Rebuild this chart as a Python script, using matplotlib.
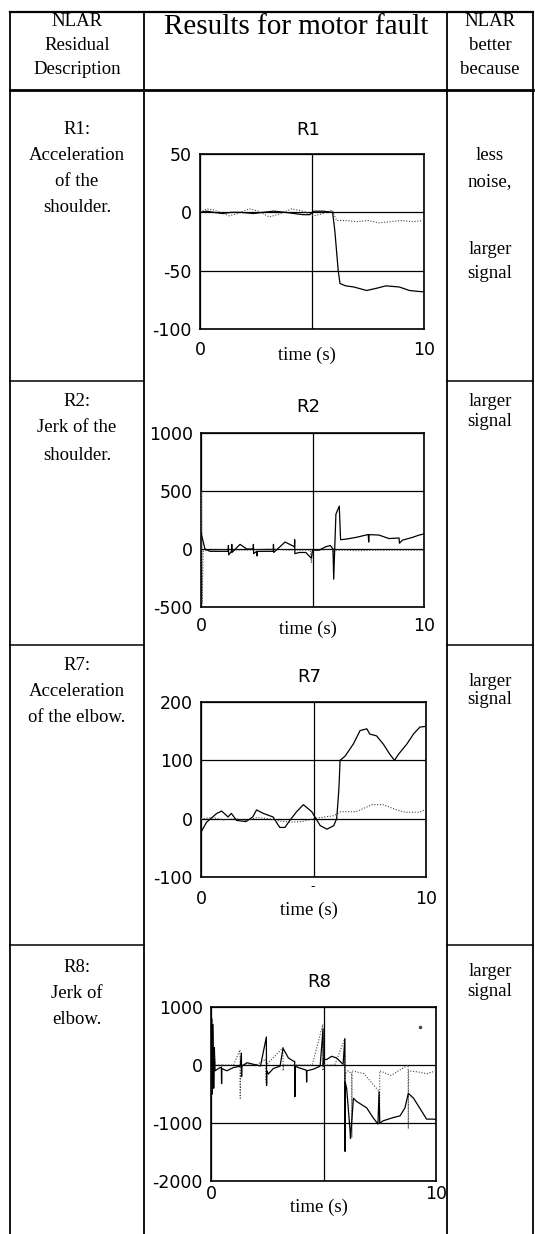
import matplotlib
matplotlib.use("Agg")
import matplotlib.pyplot as plt
from matplotlib.lines import Line2D
import numpy as np

# ---------------- data ----------------
r1_solid_t = [0, 0.3, 0.6, 1.0, 1.4, 1.8, 2.4, 2.8, 3.3, 3.8, 4.2, 4.6, 4.9, 5.1, 5.5, 5.92, 6.02, 6.17, 6.25, 6.5, 6.87, 7.44, 7.9, 8.3, 8.9, 9.35, 9.86, 10.0]
r1_solid_v = [0, 1, 0, -1, 0, 0, -1, 0, 1, 0, -1, -2, -2, 1, 1, 0, -16, -50, -61, -63, -64, -67, -65, -63, -64, -67, -68, -68]
r1_dot_t = [0, 0.3, 0.6, 0.9, 1.3, 1.7, 2.2, 2.6, 3.1, 3.6, 4.1, 4.6, 5.1, 5.5, 5.9, 6.1, 6.5, 7.0, 7.5, 8.0, 8.5, 9.0, 9.5, 10]
r1_dot_v = [0, 3, 2, 0, -3, -1, 3, 1, -4, -1, 3, 1, -3, -1, 2, -7, -7, -8, -7, -9, -8, -7, -8, -7]

r2_solid_t = [0, 0.05, 0.18, 0.4, 0.8, 1.22, 1.23, 1.24, 1.37, 1.38, 1.39, 1.75, 2.05, 2.34, 2.35, 2.36,
              2.5, 2.51, 2.52, 2.8, 3.24, 3.25, 3.26, 3.77, 4.19, 4.2, 4.21, 4.4, 4.7, 4.95, 5.0, 5.3, 5.6, 5.8,
              5.92, 5.95, 6.05, 6.2, 6.26, 6.5, 6.95, 7.5, 7.52, 7.54, 7.98, 8.43, 8.88, 8.9, 9.03, 9.48, 9.78, 10.0]
r2_solid_v = [140, 100, 0, -20, -20, -20, 30, -50, -20, 40, -30, 40, 0, 0, 40, -40,
              -20, -60, -20, -20, -20, 40, -30, 60, 20, 80, -40, -30, -30, -80, -10, -10, 20, 30,
              0, -260, 300, 370, 80, 85, 100, 125, 60, 124, 120, 90, 95, 50, 76, 100, 120, 130]
r2_dot_t = [0, 0.02, 0.05, 0.1, 0.3, 1, 2, 3, 4, 4.9, 4.95, 5.0, 5.5, 5.9, 5.95, 6.0, 6.5, 7, 8, 9, 10]
r2_dot_v = [0, 500, -470, -20, -10, -5, -10, 0, -10, -10, -120, -10, -5, 0, -80, -10, -10, -15, -10, -10, -10]

r7_solid_t = [0.03, 0.25, 0.7, 0.92, 1.2, 1.35, 1.58, 2.0, 2.3, 2.47, 2.77, 3.2, 3.5, 3.73, 3.95, 4.25, 4.55, 4.92,
              5.3, 5.6, 5.9, 6.03, 6.1, 6.14, 6.18, 6.4, 6.77, 7.07, 7.37, 7.5, 7.8, 8.1, 8.4, 8.6, 8.77, 9.15, 9.44, 9.73, 9.95]
r7_solid_v = [-21, -6, 9, 13, 3, 9, -3, -5, 3, 15, 9, 3, -15, -15, -3, 12, 24, 12,
              -12, -18, -12, 0, 35, 60, 100, 107, 128, 151, 154, 145, 142, 128, 110, 100, 110, 128, 145, 157, 158]
r7_dot_t = [0, 0.5, 1.0, 1.5, 2.0, 2.5, 3.0, 3.5, 4.0, 4.5, 5.0, 5.5, 5.9, 6.2, 6.9, 7.6, 8.1, 8.7, 9.1, 9.7, 10.0]
r7_dot_v = [0, 2, -2, 0, -3, 2, 0, -4, -6, -5, 0, 3, 5, 12, 12, 24, 24, 15, 11, 11, 16]

r8_solid_t = [0.0, 0.03, 0.06, 0.09, 0.12, 0.15, 0.18, 0.4, 0.46, 0.47, 0.48, 0.7, 1.0, 1.3, 1.35, 1.36, 1.37, 1.6, 2.2,
              2.46, 2.47, 2.48, 2.55, 2.77, 3.07, 3.2, 3.44, 3.66, 3.72, 3.73, 3.74, 3.88, 4.24, 4.25, 4.26, 4.55,
              4.85, 4.98, 4.99, 5.0, 5.14, 5.36, 5.58, 5.87, 5.95, 5.96, 5.97, 6.03, 6.18, 6.2, 6.33, 6.47, 6.92,
              7.2, 7.42, 7.47, 7.5, 7.66, 8.1, 8.4, 8.62, 8.77, 9.0, 9.36, 9.58, 9.88, 10.0]
r8_solid_v = [0, 800, -500, 700, -400, 300, -100, -44, -44, -322, -60, -100, -44, -20, 205, -200, -20, 39, -17,
              483, -350, -100, -155, -60, -20, 289, 122, 67, 60, -544, -20, -44, -90, -294, -100, -72,
              -20, 622, 0, 100, 94, 150, 122, 11, 455, -1489, -300, -405, -1128, -1267, -572, -628, -739,
              -906, -1017, -461, -1000, -961, -906, -878, -739, -489, -572, -794, -933, -933, -940]
r8_dot_t = [0.0, 0.02, 0.05, 0.08, 0.11, 0.14, 0.2, 0.46, 0.47, 0.48, 1.0, 1.29, 1.3, 1.31, 2.0, 2.44, 2.45, 2.46,
            3.2, 3.21, 3.22, 3.71, 3.72, 3.73, 4.5, 4.97, 4.98, 4.99, 5.5, 5.94, 5.95, 5.96, 6.1, 6.25, 6.26,
            6.27, 6.8, 7.48, 7.49, 7.5, 8.0, 8.76, 8.77, 8.78, 9.2, 9.6, 10.0]
r8_dot_v = [0, 700, -500, 600, -300, 200, 0, 0, -300, 0, 0, 261, -572, 0, 0, 100, -300, 0,
            300, -100, 0, 0, -550, 0, 0, 700, -100, 0, 0, 450, -1500, -150, -100, -150, -1250,
            -100, -150, -460, -1000, -100, -180, 0, -1100, -100, -120, -150, -100]
r8_iso_t = [9.3]
r8_iso_v = [650]

charts = [
    dict(title="R1", ylim=(-100, 50), yticks=[-100, -50, 0, 50],
         st=r1_solid_t, sv=r1_solid_v, dt=r1_dot_t, dv=r1_dot_v),
    dict(title="R2", ylim=(-500, 1000), yticks=[-500, 0, 500, 1000],
         st=r2_solid_t, sv=r2_solid_v, dt=r2_dot_t, dv=r2_dot_v),
    dict(title="R7", ylim=(-100, 200), yticks=[-100, 0, 100, 200],
         st=r7_solid_t, sv=r7_solid_v, dt=r7_dot_t, dv=r7_dot_v),
    dict(title="R8", ylim=(-2000, 1000), yticks=[-2000, -1000, 0, 1000],
         st=r8_solid_t, sv=r8_solid_v, dt=r8_dot_t, dv=r8_dot_v),
]

left_header = ["NLAR", "Residual", "Description"]
right_header = ["NLAR", "better", "because"]
mid_header = "Results for motor fault"
left_texts = [["R1:", "Acceleration", "of the", "shoulder."],
              ["R2:", "Jerk of the", "shoulder."],
              ["R7:", "Acceleration", "of the elbow."],
              ["R8:", "Jerk of", "elbow."]]
right_texts = [["less", "noise,", "", "larger", "signal"],
               ["larger", "signal"],
               ["larger", "signal"],
               ["larger", "signal"]]

# ---------------- layout (pixels) ----------------
W, H = 535, 1234
fig = plt.figure(figsize=(W / 100, H / 100), dpi=100)
fig.patch.set_facecolor("white")

def fx(px):
    return px / W

def fy(py):
    return 1 - py / H

serif = "Liberation Serif"
sans = "DejaVu Sans"
BODY = 13.5
TICK = 12.5

# table lines
def hline(y, x0, x1, lw=1.1):
    fig.add_artist(Line2D([fx(x0), fx(x1)], [fy(y), fy(y)], color="black", lw=lw, transform=fig.transFigure))

def vline(x, y0, y1, lw=1.1):
    fig.add_artist(Line2D([fx(x), fx(x)], [fy(y0), fy(y1)], color="black", lw=lw, transform=fig.transFigure))

hline(12, 10, 533, lw=1.6)
hline(90, 10, 533, lw=2.0)
for yy in [381, 645, 945]:
    hline(yy, 10, 144)
    hline(yy, 447, 533)
for xx in [10, 144, 447, 533]:
    vline(xx, 12, 1234, lw=1.3)

# header texts
for txt, yy in zip(left_header, [21, 46, 70]):
    fig.text(fx(77), fy(yy), txt, family=serif, fontsize=BODY, ha="center", va="center")
for txt, yy in zip(right_header, [21, 46, 70]):
    fig.text(fx(490), fy(yy), txt, family=serif, fontsize=BODY, ha="center", va="center")
fig.text(fx(296), fy(27), mid_header, family=serif, fontsize=21, ha="center", va="center")

left_y = [[130, 155, 181, 208], [401, 428, 455], [666, 691, 717], [967, 993, 1019]]
right_y = [[155, 182, 0, 250, 274], [402, 421], [681, 700], [972, 991]]
for lines, ys in zip(left_texts, left_y):
    for txt, yy in zip(lines, ys):
        fig.text(fx(77), fy(yy), txt, family=serif, fontsize=BODY, ha="center", va="center")
for lines, ys in zip(right_texts, right_y):
    for txt, yy in zip(lines, ys):
        if txt:
            fig.text(fx(490), fy(yy), txt, family=serif, fontsize=BODY, ha="center", va="center")

# axes rectangles: left, top, right, bottom (px); title y; tick-label y; xlabel y
rects = [(200, 154, 424, 329, 130, 348, 355),
         (201, 433, 424, 607, 407, 624, 629),
         (201, 702, 426, 877, 677, 897, 910),
         (211, 1007, 436, 1181, 982, 1192, 1207)]

axes = []
for ch, (l, t, r, b, ty, tky, xly) in zip(charts, rects):
    ax = fig.add_axes([fx(l), fy(b), fx(r) - fx(l), (b - t) / H])
    ax.set_xlim(0, 10)
    ax.set_ylim(*ch["ylim"])
    ax.plot(ch["dt"], ch["dv"], color="#444444", lw=0.8, ls=(0, (1, 1.5)), zorder=3)
    ax.plot(ch["st"], ch["sv"], color="black", lw=0.9, zorder=4)
    ax.set_yticks(ch["yticks"])
    ax.set_yticklabels([str(v) for v in ch["yticks"]], family=sans, fontsize=TICK)
    ax.set_xticks([0, 5, 10])
    ax.set_xticklabels(["0", "", "10"], family=sans, fontsize=TICK)
    ax.tick_params(axis="both", length=0)
    ax.tick_params(axis="y", pad=6)
    pad_px = (tky - b) - 7
    ax.tick_params(axis="x", pad=max(pad_px, 1) * 0.72)
    ax.grid(True, color="black", lw=0.9)
    ax.set_axisbelow(True)
    for s in ax.spines.values():
        s.set_linewidth(1.2)
    fig.text(fx((l + r) / 2 - 4), fy(ty), ch["title"], family=sans, fontsize=13, ha="center", va="center")
    fig.text(fx((l + r) / 2 - 5), fy(xly), "time (s)", family=serif, fontsize=BODY, ha="center", va="center")
    axes.append(ax)

# isolated dotted sample in R8
axes[3].plot(r8_iso_t, r8_iso_v, ls="none", marker="o", ms=1.5, color="#444444")
# small dash under R7 midline
fig.text(fx(313), fy(887), "-", family=sans, fontsize=9, ha="center", va="center")

fig.savefig("out.png", dpi=100, facecolor="white")
